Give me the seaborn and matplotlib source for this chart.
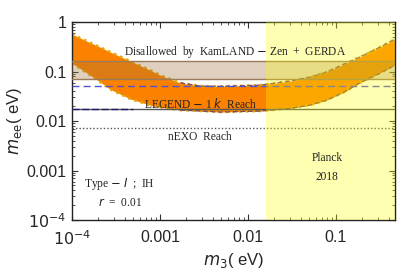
import numpy as np
import pandas as pd
import matplotlib
matplotlib.use("Agg")
import matplotlib.pyplot as plt
import seaborn as sns
from matplotlib.ticker import FixedLocator, LogLocator, NullFormatter

# band of allowed m_ee vs m3
m3 = [1e-4, 1.6e-4, 2.1e-4, 2.7e-4, 4.6e-4, 7.7e-4, 1e-3, 1.7e-3, 2.85e-3,
      4.8e-3, 0.0137, 0.03, 0.051, 0.079, 0.126, 0.187, 0.316, 0.47]
mee_upper = [0.57, 0.385, 0.31, 0.25, 0.163, 0.107, 0.085, 0.059, 0.051,
             0.050, 0.053, 0.064, 0.077, 0.098, 0.142, 0.196, 0.31, 0.45]
mee_lower = [0.148, 0.085, 0.061, 0.044, 0.028, 0.021, 0.019, 0.0166, 0.016,
             0.0152, 0.0159, 0.018, 0.021, 0.0266, 0.039, 0.059, 0.093, 0.135]

# experimental limits
kamland_band = [0.071, 0.163]
blue_line = 0.051
legend_reach = 0.0175
nexo_reach = 0.0072
planck_m3 = 0.016

x_ticks = [1e-4, 1e-3, 1e-2, 1e-1]
x_labels = [r"$10^{-4}$", "0.001", "0.01", "0.1"]
y_ticks = [1e-4, 1e-3, 1e-2, 1e-1, 1]
y_labels = [r"$10^{-4}$", "0.001", "0.01", "0.1", "1"]
xlim = (1e-4, 0.47)
ylim = (1e-4, 1)

sns.set_style("ticks")
plt.rcParams["font.family"] = ["Liberation Sans", "DejaVu Sans"]
plt.rcParams["mathtext.fontset"] = "dejavusans"

df = pd.DataFrame({"m3": m3, "upper": mee_upper, "lower": mee_lower})

fig = plt.figure(figsize=(4, 2.72), dpi=100)
ax = fig.add_axes([0.18, 0.191, 0.8075, 0.728])
ax.set_xscale("log")
ax.set_yscale("log")

# allowed region
ax.fill_between(df["m3"], df["lower"], df["upper"], color="#fa8200", lw=0, zorder=1)
sns.lineplot(data=df, x="m3", y="upper", ax=ax, color="#e0a800", lw=1.8,
             linestyle=":", zorder=2)
sns.lineplot(data=df, x="m3", y="lower", ax=ax, color="#e0a800", lw=1.8,
             linestyle=":", zorder=2)
right = df[df["m3"] >= 1.7e-3]
sns.lineplot(data=right, x="m3", y="upper", ax=ax, color="#7a4a5a", lw=0.9,
             linestyle=(0, (4, 2)), zorder=3)
sns.lineplot(data=right, x="m3", y="lower", ax=ax, color="#7a4a5a", lw=0.9,
             linestyle=(0, (4, 2)), zorder=3)

# KamLAND-Zen + GERDA disallowed band
ax.axhspan(kamland_band[0], kamland_band[1], color="#a06e3c", alpha=0.33, lw=0, zorder=4)
for v in kamland_band:
    ax.axhline(v, color="#9a7a5a", lw=1, zorder=5)

ax.axhline(blue_line, color="#5050d0", lw=1, linestyle=(0, (5, 3)), zorder=5)
ax.axhline(legend_reach, color="#555555", lw=1, zorder=5)
ax.plot([xlim[0], 5e-4], [legend_reach, legend_reach], color="#1a1a6a", lw=1,
        linestyle=(0, (5, 2)), zorder=6)
ax.axhline(nexo_reach, color="#555555", lw=1, linestyle=(0, (1, 1.5)), zorder=5)

# Planck 2018 region
ax.axvspan(planck_m3, xlim[1], color="#ffff00", alpha=0.3, lw=0, zorder=7)

serif = dict(family=["Liberation Serif", "DejaVu Serif"], fontsize=8.3, color="#222222",
             ha="center", va="center", zorder=8)
ax.text(0.0071, 0.25, "Disallowed  by  KamLAND $-$ Zen  +  GERDA", **serif)
ax.text(0.00285, 0.022, r"LEGEND $-$ 1 $k$  Reach", **serif)
ax.text(0.00285, 0.0048, "nEXO  Reach", **serif)
ax.text(0.079, 0.0018, "Planck", **serif)
ax.text(0.079, 0.00074, "2018", **serif)
ax.text(3.5e-4, 0.00054, r"Type $-$ $I$  ;  IH", **serif)
ax.text(3.5e-4, 0.00022, r"$r$  =  0.01", **serif)

ax.set_xlim(*xlim)
ax.set_ylim(*ylim)
ax.xaxis.set_major_locator(FixedLocator(x_ticks))
ax.set_xticklabels(x_labels)
ax.yaxis.set_major_locator(FixedLocator(y_ticks))
ax.set_yticklabels(y_labels)
for axis in (ax.xaxis, ax.yaxis):
    axis.set_minor_locator(LogLocator(base=10, subs=np.arange(2, 10), numticks=20))
    axis.set_minor_formatter(NullFormatter())
ax.tick_params(which="both", direction="in", top=True, right=True, labelsize=11.5,
               color="#333333")
ax.tick_params(axis="x", pad=7)
ax.tick_params(axis="y", pad=4)
ax.tick_params(which="major", length=4, width=0.8)
ax.tick_params(which="minor", length=2, width=0.6)
for s in ax.spines.values():
    s.set_linewidth(1)
    s.set_color("#222222")

ax.set_xlabel(r"$m_3$( eV)", fontsize=12, labelpad=2)
ax.set_ylabel(r"$m_{\rm ee}$( eV)", fontsize=12, labelpad=2)

fig.savefig("out.png", dpi=100)
